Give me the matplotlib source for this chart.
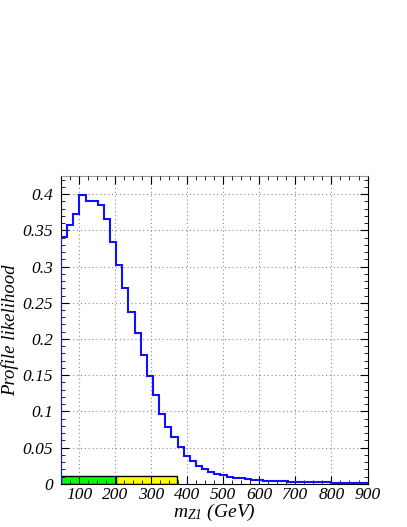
import numpy as np
import matplotlib
matplotlib.use("Agg")
import matplotlib.pyplot as plt
from matplotlib.ticker import MultipleLocator

# binned profile likelihood for m_Z1 (GeV), 17 GeV bins from 50 to 900
bin_lo = 50
bin_w = 17
likelihood = [0.341, 0.358, 0.373, 0.399, 0.390, 0.391, 0.385, 0.365, 0.334, 0.302,
              0.270, 0.237, 0.208, 0.178, 0.149, 0.123, 0.097, 0.079, 0.064, 0.051,
              0.039, 0.032, 0.024, 0.021, 0.016, 0.013, 0.0115, 0.0098, 0.0085, 0.0075,
              0.0065, 0.0057, 0.0050, 0.0045, 0.0040, 0.0036, 0.0032, 0.0029, 0.0026, 0.0024,
              0.0022, 0.0020, 0.0019, 0.0018, 0.0017, 0.0016, 0.0015, 0.0014, 0.0014, 0.0013]

# credible intervals shown as coloured bands at the bottom
band_edges = [50, 202, 371]
band_colors = ["#00ff00", "#ffff00"]
band_height = 0.0105

edges = bin_lo + bin_w * np.arange(len(likelihood) + 1)

plt.rcParams['font.family'] = ['Liberation Serif', 'DejaVu Serif']
plt.rcParams['mathtext.fontset'] = 'custom'
plt.rcParams['mathtext.it'] = 'Liberation Serif:italic'
plt.rcParams['mathtext.rm'] = 'Liberation Serif:italic'

fig = plt.figure(figsize=(4.07, 5.27), dpi=100)
ax = fig.add_axes([0.150, 0.082, 0.753, 0.584])

for i in range(len(band_colors)):
    ax.bar(band_edges[i], band_height, width=band_edges[i + 1] - band_edges[i], align='edge',
           color=band_colors[i], edgecolor='black', linewidth=1.0, zorder=1)

ax.stairs(likelihood, edges, baseline=0, color='#1010ff', linewidth=1.5, zorder=3)

ax.set_xlim(50, 900)
ax.set_ylim(0, 0.425)
ax.xaxis.set_major_locator(MultipleLocator(100))
ax.xaxis.set_minor_locator(MultipleLocator(25))
ax.yaxis.set_major_locator(MultipleLocator(0.05))
ax.yaxis.set_minor_locator(MultipleLocator(0.01))
ax.set_xticks([100, 200, 300, 400, 500, 600, 700, 800, 900])
ax.set_yticks([0, 0.05, 0.1, 0.15, 0.2, 0.25, 0.3, 0.35, 0.4])
ax.set_yticklabels(['0', '0.05', '0.1', '0.15', '0.2', '0.25', '0.3', '0.35', '0.4'])

ax.grid(True, which='major', linestyle=(0, (1, 2.5)), color='#8a8a8a', linewidth=0.8, zorder=2)
ax.set_axisbelow(False)
ax.tick_params(which='both', direction='in', top=True, right=True, labelsize=12.5)
ax.tick_params(which='major', length=6, width=0.8)
ax.tick_params(which='minor', length=3, width=0.6)
ax.tick_params(axis='y', which='major', pad=6)
ax.tick_params(axis='x', which='major', pad=2.5)
for lab in ax.get_xticklabels() + ax.get_yticklabels():
    lab.set_fontstyle('italic')
ax.spines['top'].set_color('#999999')

ax.set_xlabel(r'$m_{Z1}$ (GeV)', fontsize=14, fontstyle='italic', labelpad=-1)
ax.set_ylabel('Profile likelihood', fontsize=13.5, fontstyle='italic', labelpad=2)

fig.savefig("out.png", dpi=100)
